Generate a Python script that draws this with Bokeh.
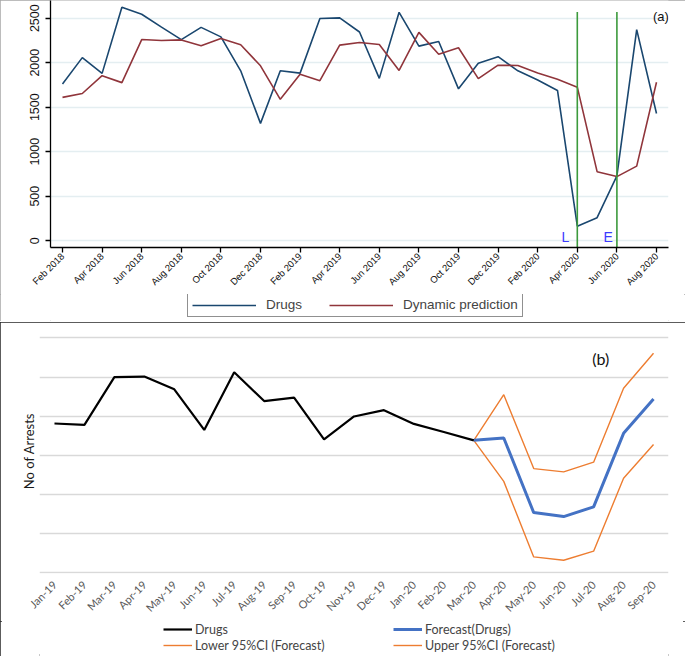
import math
from bokeh.plotting import figure
from bokeh.models import Range1d, FixedTicker, Legend, LegendItem, Label
from bokeh.layouts import column
from bokeh.embed import file_html
from bokeh.resources import INLINE
from bokeh.core.properties import value

# ---------------- panel (a) data ----------------
months_a = ["Feb 2018", "Mar 2018", "Apr 2018", "May 2018", "Jun 2018", "Jul 2018",
            "Aug 2018", "Sep 2018", "Oct 2018", "Nov 2018", "Dec 2018", "Jan 2019",
            "Feb 2019", "Mar 2019", "Apr 2019", "May 2019", "Jun 2019", "Jul 2019",
            "Aug 2019", "Sep 2019", "Oct 2019", "Nov 2019", "Dec 2019", "Jan 2020",
            "Feb 2020", "Mar 2020", "Apr 2020", "May 2020", "Jun 2020", "Jul 2020",
            "Aug 2020"]
drugs_a = [1761, 2057, 1880, 2622, 2544, 2400, 2260, 2397, 2290, 1909, 1318, 1909,
           1883, 2496, 2504, 2345, 1824, 2566, 2186, 2238, 1706, 1994, 2068, 1909,
           1806, 1688, 162, 258, 727, 2371, 1429]
dynamic_a = [1610, 1654, 1854, 1776, 2260, 2249, 2256, 2190, 2271, 2201, 1965, 1588,
             1869, 1798, 2197, 2227, 2205, 1913, 2341, 2094, 2168, 1821, 1972, 1968,
             1883, 1813, 1725, 775, 720, 838, 1780]
y_ticks_a = [0, 500, 1000, 1500, 2000, 2500]
event_months = ["Apr 2020", "Jun 2020"]
event_labels = ["L", "E"]

# ---------------- panel (b) data ----------------
months_b = ["Jan-19", "Feb-19", "Mar-19", "Apr-19", "May-19", "Jun-19", "Jul-19",
            "Aug-19", "Sep-19", "Oct-19", "Nov-19", "Dec-19", "Jan-20", "Feb-20",
            "Mar-20", "Apr-20", "May-20", "Jun-20", "Jul-20", "Aug-20", "Sep-20"]
drugs_b = [1906, 1888, 2498, 2506, 2343, 1824, 2562, 2193, 2236, 1704, 1996, 2077,
           1901, 1798, 1691]
forecast_months_b = ["Mar-20", "Apr-20", "May-20", "Jun-20", "Jul-20", "Aug-20", "Sep-20"]
forecast_b = [1691, 1721, 768, 717, 841, 1781, 2219]
upper_b = [1691, 2275, 1330, 1288, 1412, 2356, 2803]
lower_b = [1691, 1167, 202, 159, 275, 1206, 1639]
grid_b = [0, 500, 1000, 1500, 2000, 2500, 3000]

SANS = "Liberation Sans"
CAL = "Lato"

# ================= panel (a) =================
xa = list(range(len(months_a)))
drugs_a_style = dict(line_color="#1a476f", line_width=1.6)
dyn_a_style = dict(line_color="#90353b", line_width=1.6)

p1 = figure(width=685, height=294, x_range=Range1d(-0.606, 30.606), y_range=Range1d(-77, 2699),
            min_border_left=50, min_border_right=17, min_border_top=0, min_border_bottom=43,
            output_backend="svg", toolbar_location=None)
p1.outline_line_color = None
p1.xgrid.visible = False
p1.ygrid.grid_line_color = "#e4eef1"
p1.ygrid.grid_line_width = 1.5

p1.xaxis.ticker = FixedTicker(ticks=list(range(0, len(months_a), 2)))
p1.xaxis.major_label_overrides = {i: months_a[i] for i in range(0, len(months_a), 2)}
p1.xaxis.major_label_orientation = math.pi / 4
p1.xaxis.major_label_text_font = SANS
p1.xaxis.major_label_text_font_size = "9.5px"
p1.xaxis.major_label_standoff = 2
p1.yaxis.ticker = FixedTicker(ticks=y_ticks_a)
p1.yaxis.major_label_orientation = "vertical"
p1.yaxis.major_label_text_font = SANS
p1.yaxis.major_label_text_font_size = "12.5px"
p1.yaxis.major_label_standoff = 6
for ax in (p1.xaxis, p1.yaxis):
    ax.minor_tick_line_color = None
    ax.major_tick_out = 5
    ax.major_tick_in = 0
    ax.axis_label_standoff = 0
    ax.axis_line_width = 1.3
    ax.major_tick_line_width = 1.3
    ax.major_label_text_color = "#111111"

p1.line(xa, drugs_a, **drugs_a_style)
p1.line(xa, dynamic_a, **dyn_a_style)

ev_x = [months_a.index(m) for m in event_months]
p1.segment(x0=ev_x, x1=ev_x, y0=[-77] * len(ev_x), y1=[2570] * len(ev_x),
           line_color="#3c9a3c", line_width=1.6)
p1.text(x=ev_x, y=[45] * len(ev_x), text=event_labels, x_offset=[-8, -4],
        text_align="right", text_baseline="middle", text_color="#3a3aff",
        text_font=value(SANS), text_font_size="14px")
p1.add_layout(Label(x=30.22, y=2522, text="(a)", text_align="center", text_baseline="middle",
                    text_font=SANS, text_font_size="13px", text_color="#111111"))

# legend strip of panel (a): proxies drawn outside the visible y-range
la = figure(width=685, height=27, x_range=p1.x_range, y_range=Range1d(90000, 90001),
            min_border_left=50, min_border_right=17, min_border_top=0, min_border_bottom=0,
            x_axis_location=None, y_axis_location=None,
            output_backend="svg", toolbar_location=None)
la.outline_line_color = None
la.grid.visible = False
ka = la.line(xa, drugs_a, **drugs_a_style)
kb = la.line(xa, dynamic_a, **dyn_a_style)
la.add_layout(Legend(items=[LegendItem(label="Drugs", renderers=[ka]),
                            LegendItem(label="Dynamic prediction", renderers=[kb])],
                     orientation="horizontal", location=(137, 4),
                     glyph_width=64, glyph_height=14, label_height=14, label_standoff=10,
                     spacing=27, padding=4, margin=0,
                     label_text_font=SANS, label_text_font_size="13.5px",
                     border_line_color="#222222", border_line_width=1.3,
                     background_fill_alpha=1), "center")

panel_a = column(p1, la, spacing=0,
                 styles={"outline": "1px solid #a6a6a6", "outline-offset": "-1px"})

# ================= panel (b) =================
xb = list(range(len(drugs_b)))
xf = [months_b.index(m) for m in forecast_months_b]
lower_style = dict(line_color="#ED7D31", line_width=1.4)
upper_style = dict(line_color="#ED7D31", line_width=1.4)
fc_style = dict(line_color="#4472C4", line_width=3)
drugs_style = dict(line_color="#000000", line_width=2.2)

p2 = figure(width=685, height=299, x_range=Range1d(-0.5, 20.5), y_range=Range1d(-10, 3120),
            min_border_left=39, min_border_right=17, min_border_top=6, min_border_bottom=42,
            output_backend="svg", toolbar_location=None)
p2.outline_line_color = None
p2.xgrid.visible = False
p2.ygrid.ticker = FixedTicker(ticks=grid_b)
p2.ygrid.grid_line_color = "#d9d9d9"
p2.ygrid.grid_line_width = 1.5

p2.xaxis.ticker = FixedTicker(ticks=list(range(len(months_b))))
p2.xaxis.major_label_overrides = {i: m for i, m in enumerate(months_b)}
p2.xaxis.major_label_orientation = math.pi / 4
p2.xaxis.major_label_text_font = CAL
p2.xaxis.major_label_text_font_size = "11px"
p2.xaxis.major_label_text_color = "#595959"
p2.xaxis.major_label_standoff = 9
p2.xaxis.axis_label_standoff = 0
p2.xaxis.major_tick_out = 0
p2.xaxis.major_tick_in = 0
p2.xaxis.axis_line_color = None
p2.xaxis.major_tick_line_color = None
p2.xaxis.minor_tick_line_color = None

p2.yaxis.ticker = FixedTicker(ticks=[])
p2.yaxis.axis_line_color = None
p2.yaxis.major_tick_line_color = None
p2.yaxis.minor_tick_line_color = None
p2.yaxis.major_tick_out = 0
p2.yaxis.major_tick_in = 0
p2.yaxis.major_label_standoff = 0
p2.yaxis.axis_label = "No of Arrests"
p2.yaxis.axis_label_text_font = CAL
p2.yaxis.axis_label_text_font_style = "normal"
p2.yaxis.axis_label_text_font_size = "13px"
p2.yaxis.axis_label_text_color = "#1a1a1a"
p2.yaxis.axis_label_standoff = 3

p2.line(xf, lower_b, **lower_style)
p2.line(xf, upper_b, **upper_style)
p2.line(xf, forecast_b, **fc_style)
p2.line(xb, drugs_b, **drugs_style)

p2.add_layout(Label(x=18.24, y=2733, text="(b)", text_align="center", text_baseline="middle",
                    text_font=CAL, text_font_size="16px", text_color="#111111"))

# legend strip of panel (b): proxies drawn outside the visible y-range
lb = figure(width=685, height=35, x_range=p2.x_range, y_range=Range1d(90000, 90001),
            min_border_left=39, min_border_right=17, min_border_top=0, min_border_bottom=0,
            x_axis_location=None, y_axis_location=None,
            output_backend="svg", toolbar_location=None)
lb.outline_line_color = None
lb.grid.visible = False
kd = lb.line(xb, drugs_b, **drugs_style)
kf = lb.line(xf, forecast_b, **fc_style)
kl = lb.line(xf, lower_b, **lower_style)
ku = lb.line(xf, upper_b, **upper_style)
common = dict(glyph_width=29, glyph_height=16, label_height=16, label_standoff=3,
              spacing=0, padding=0, margin=0, label_text_font=CAL,
              label_text_font_size="12.5px", border_line_color=None,
              background_fill_alpha=0)
lb.add_layout(Legend(items=[LegendItem(label="Drugs", renderers=[kd]),
                            LegendItem(label="Lower 95%CI (Forecast)", renderers=[kl])],
                     location=(124, 3), **common), "center")
lb.add_layout(Legend(items=[LegendItem(label="Forecast(Drugs)", renderers=[kf]),
                            LegendItem(label="Upper 95%CI (Forecast)", renderers=[ku])],
                     location=(354, 3), **common), "center")

panel_b = column(p2, lb, spacing=0,
                 styles={"outline": "2px solid #262626", "outline-offset": "-2px"})

layout = column(panel_a, panel_b, spacing=1)
open("out.html", "w").write(file_html(layout, INLINE))
